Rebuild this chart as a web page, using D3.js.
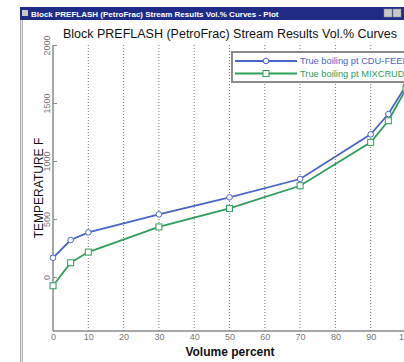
<!DOCTYPE html>
<html lang="en">
<head>
<meta charset="UTF-8">
<title>Block PREFLASH Vol.% Curves</title>
<script src="https://unpkg.com/d3@7/dist/d3.min.js"></script>
<style>
    body { margin: 0; background: #fff; }
    svg { display: block; font-family: "Liberation Sans", Arial, sans-serif; }
    .tick text { fill: #777; font-size: 9px; }
    .domain { stroke: #8a8a8a; stroke-width: 1.5px; }
</style>
</head>
<body>
<div id="chart"></div>
<script>
// values
var volPct = [0, 5, 10, 30, 50, 70, 90, 95, 100];
var cduFeed = [166, 319, 385, 540, 687, 845, 1230, 1405, 1650];
var mixCrude = [-75, 123, 215, 432, 592, 787, 1161, 1347, 1620];
var xTicks = [0, 10, 20, 30, 40, 50, 60, 70, 80, 90, 100];
var gridTicks = [10, 20, 30, 40, 50, 60, 70, 80, 90];
var yTicks = [0, 500, 1000, 1500, 2000];
var seriesNames = ['True boiling pt CDU-FEED', 'True boiling pt MIXCRUDE'];
var seriesColors = ['#4a66c4', '#2e9e5c'];

var W = 404, H = 362;
var svg = d3.select('#chart').append('svg').attr('width', W).attr('height', H);

// window chrome
svg.append('rect').attr('x', 20).attr('y', 7).attr('width', W - 20).attr('height', 13).attr('fill', '#1e2c86');
svg.append('rect').attr('x', 22).attr('y', 10).attr('width', 6).attr('height', 6).attr('fill', '#c8c8c8');
svg.append('text').attr('x', 31).attr('y', 17)
    .attr('fill', '#fff').attr('font-size', '8px').attr('font-weight', 'bold')
    .text('Block PREFLASH (PetroFrac) Stream Results Vol.% Curves - Plot');
[384, 393].forEach(function (bx) {
    svg.append('rect').attr('x', bx).attr('y', 9).attr('width', 8).attr('height', 8)
        .attr('fill', '#c8c8c8').attr('stroke', '#888').attr('stroke-width', 0.5);
});
svg.append('rect').attr('x', 20).attr('y', 20).attr('width', 3).attr('height', H - 20).attr('fill', '#b0b0b0');
svg.append('line').attr('x1', 21.5).attr('x2', 21.5).attr('y1', 20).attr('y2', H).attr('stroke', '#e8e8e8').attr('stroke-width', 1);

var x = d3.scaleLinear().domain([0, 100]).range([53, 406]);
var y = d3.scaleLinear().domain([-465, 2000]).range([331, 45]);

// dotted grid
svg.append('g').selectAll('line').data(gridTicks).join('line')
    .attr('x1', d => x(d)).attr('x2', d => x(d))
    .attr('y1', 45).attr('y2', 331)
    .attr('stroke', '#777').attr('stroke-width', 1).attr('stroke-dasharray', '1,2');

// axes
var gx = svg.append('g').attr('transform', 'translate(0,331)')
    .call(d3.axisBottom(x).tickValues(xTicks).tickSize(0).tickPadding(3).tickFormat(d3.format('d')));
gx.select('.domain').attr('d', 'M53,0H404');

var gy = svg.append('g').attr('transform', 'translate(53,0)')
    .call(d3.axisLeft(y).tickValues(yTicks).tickSize(-4).tickSizeOuter(0).tickFormat(d3.format('d')));
gy.select('.domain').attr('d', 'M0,45V331');
gy.selectAll('.tick line').attr('stroke', '#8a8a8a');
gy.selectAll('.tick text')
    .attr('x', 0).attr('dy', 0)
    .attr('text-anchor', 'middle')
    .attr('transform', 'translate(-3,0) rotate(-90)');

// titles
svg.append('text').attr('x', 230).attr('y', 38).attr('text-anchor', 'middle')
    .attr('font-size', '12.5px').attr('fill', '#111')
    .text('Block PREFLASH (PetroFrac) Stream Results Vol.% Curves');
svg.append('text').attr('x', 230).attr('y', 356).attr('text-anchor', 'middle')
    .attr('font-size', '12px').attr('font-weight', 'bold').attr('fill', '#111')
    .text('Volume percent');
svg.append('text').attr('transform', 'translate(43,188) rotate(-90)').attr('text-anchor', 'middle')
    .attr('font-size', '12px').attr('fill', '#111')
    .text('TEMPERATURE F');

// series
var line = d3.line().x((d, i) => x(volPct[i])).y(d => y(d));
[cduFeed, mixCrude].forEach(function (vals, k) {
    svg.append('path').datum(vals).attr('d', line)
        .attr('fill', 'none').attr('stroke', seriesColors[k]).attr('stroke-width', 1.8);
});
svg.append('g').selectAll('circle').data(cduFeed).join('circle')
    .attr('cx', (d, i) => x(volPct[i])).attr('cy', d => y(d)).attr('r', 2.8)
    .attr('fill', '#fff').attr('stroke', seriesColors[0]).attr('stroke-width', 1);
svg.append('g').selectAll('rect').data(mixCrude).join('rect')
    .attr('x', (d, i) => x(volPct[i]) - 3).attr('y', d => y(d) - 3)
    .attr('width', 6).attr('height', 6)
    .attr('fill', '#fff').attr('stroke', seriesColors[1]).attr('stroke-width', 1);

// legend (runs off the right edge, as in the original window)
var lg = svg.append('g');
lg.append('rect').attr('x', 232).attr('y', 52).attr('width', 190).attr('height', 30)
    .attr('fill', '#fff').attr('stroke', '#8a8a8a').attr('stroke-width', 2);
seriesNames.forEach(function (name, k) {
    var ly = 61 + k * 12.5;
    lg.append('line').attr('x1', 235).attr('x2', 297).attr('y1', ly).attr('y2', ly)
        .attr('stroke', seriesColors[k]).attr('stroke-width', 1.8);
    if (k === 0) {
        lg.append('circle').attr('cx', 266).attr('cy', ly).attr('r', 2.8)
            .attr('fill', '#fff').attr('stroke', seriesColors[k]);
    } else {
        lg.append('rect').attr('x', 263).attr('y', ly - 3).attr('width', 6).attr('height', 6)
            .attr('fill', '#fff').attr('stroke', seriesColors[k]);
    }
    lg.append('text').attr('x', 300).attr('y', ly + 3.3).attr('font-size', '9.3px')
        .attr('fill', seriesColors[k]).text(name);
});
</script>
</body>
</html>
